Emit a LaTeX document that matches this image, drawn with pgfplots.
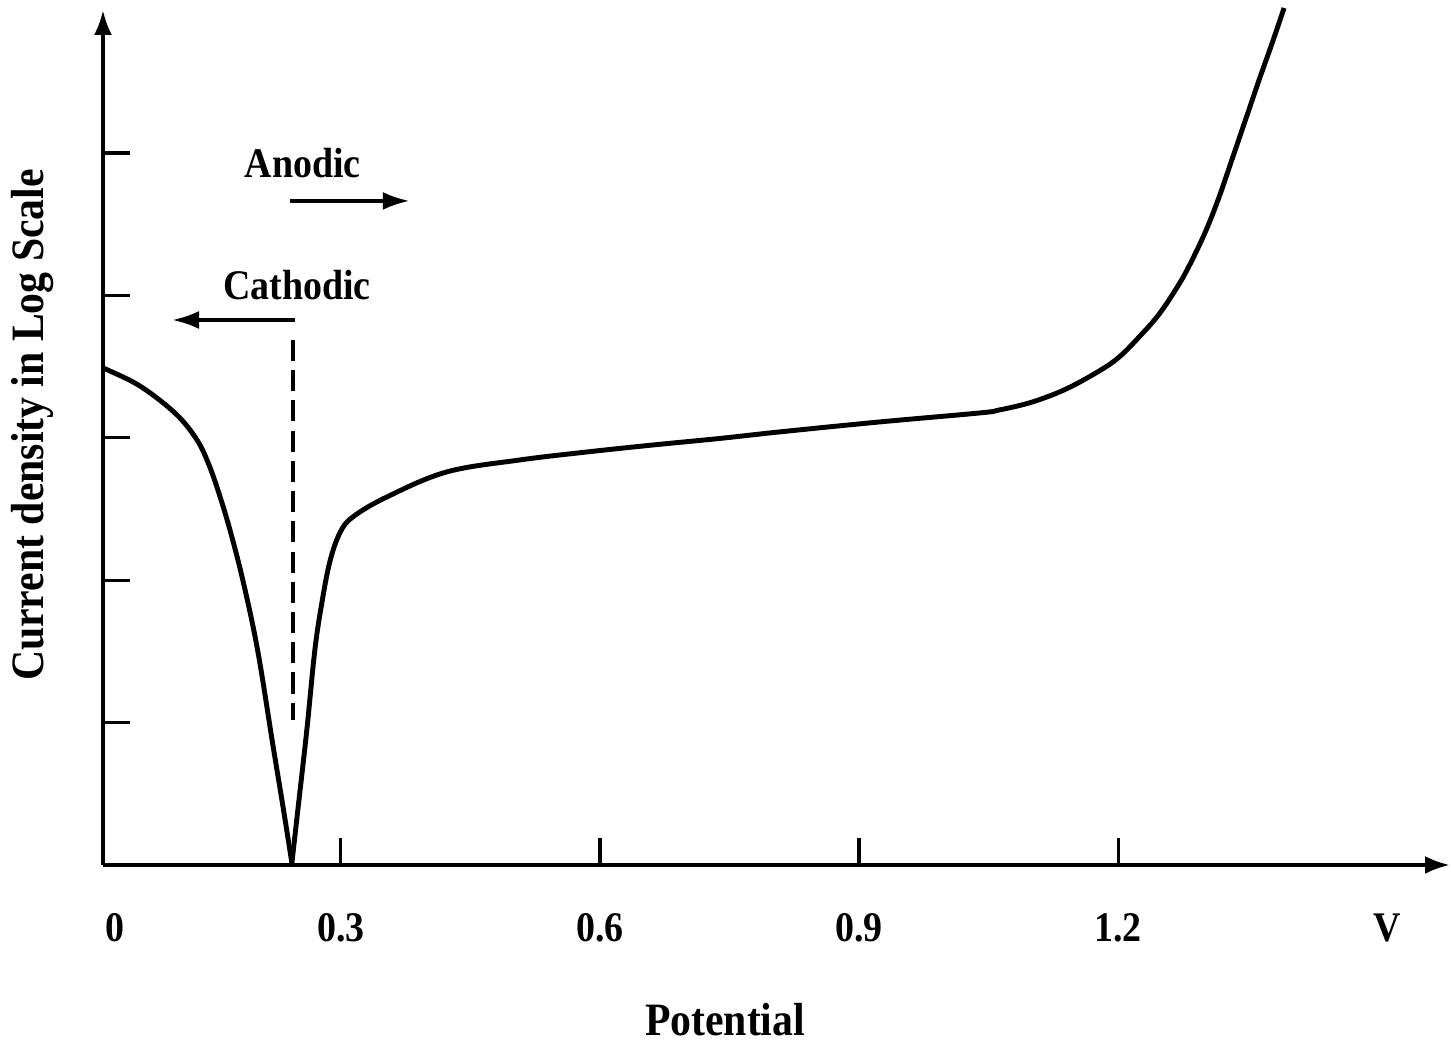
\documentclass[border=0pt]{standalone}
\usepackage{pgfplots}
\pgfplotsset{compat=1.18}
\usepackage{fontspec}
\setmainfont{Liberation Serif}[FakeStretch=0.9]
\usetikzlibrary{arrows.meta}
\begin{document}
\begin{tikzpicture}
\begin{axis}[
  width=13.47cm, height=8.55cm, scale only axis,
  xmin=0.0246, xmax=1.5842, ymin=0, ymax=6.004,
  axis lines=left,
  axis line style={line width=1.1pt, -{Latex[length=0.25cm,width=0.18cm]}},
  clip=false,
  tick align=inside,
  major tick length=0.27cm,
  tick style={line width=0.9pt, black},
  xtick={0.3,0.6,0.9,1.2},
  xticklabels={0.3,0.6,0.9,1.2},
  extra x ticks={0.039,1.5112},
  extra x tick labels={0,V},
  extra x tick style={major tick length=0pt},
  ytick={1,2,3,4,5},
  yticklabel=\empty,
  /pgf/number format/assume math mode=true,
  xticklabel style={font=\fontsize{12}{14}\selectfont\bfseries, anchor=center, yshift=-0.63cm},
  xlabel={Potential},
  ylabel={Current density in Log Scale},
  label style={font=\fontsize{13.2}{15}\selectfont\bfseries},
  xlabel style={at={(axis description cs:0.4618,-0.1813)}, anchor=center},
  ylabel style={at={(axis description cs:-0.0445,0.5146)}, anchor=base},
]
% cathodic branch
\addplot[black, line width=1.4pt, smooth, tension=0.6] coordinates {
(0.0246,3.490) (0.0593,3.392) (0.0871,3.279) (0.1137,3.139) (0.1334,2.985)
(0.1450,2.844) (0.1565,2.654) (0.1716,2.353) (0.1878,1.966) (0.2040,1.496)
(0.2213,0.843) (0.2329,0.414) (0.2433,0.014)
};
% anodic branch
\addplot[black, line width=1.4pt, smooth, tension=0.6] coordinates {
(0.2433,0.014) (0.2502,0.386) (0.2606,0.948) (0.2699,1.510) (0.2780,1.840)
(0.2872,2.128) (0.2988,2.331) (0.3139,2.444) (0.3532,2.584) (0.4226,2.760)
(0.5071,2.844) (0.5846,2.900) (0.6609,2.949) (0.7384,2.995) (0.8079,3.041)
(0.9236,3.111) (1.0392,3.174) (1.0623,3.195) (1.1005,3.251) (1.1399,3.343)
(1.1780,3.469) (1.2012,3.567) (1.2243,3.708) (1.2475,3.869) (1.2706,4.080)
(1.2857,4.249) (1.3019,4.459) (1.3169,4.691) (1.3320,4.958) (1.3482,5.246)
(1.3632,5.513) (1.3783,5.772) (1.3921,6.018)
};
% corrosion potential marker
\addplot[black, line width=1.1pt, dash pattern=on 6pt off 2.6pt] coordinates {(0.2445,3.687) (0.2445,1.018)};
\draw[line width=1.1pt, -{Latex[length=0.27cm,width=0.18cm]}] (axis cs:0.2411,4.663) -- (axis cs:0.3798,4.663);
\draw[line width=1.1pt, -{Latex[length=0.27cm,width=0.18cm]}] (axis cs:0.2468,3.827) -- (axis cs:0.1045,3.827);
\node[font=\fontsize{12}{14}\selectfont\bfseries, anchor=center] at (axis cs:0.2560,4.930) {Anodic};
\node[font=\fontsize{12}{14}\selectfont\bfseries, anchor=center] at (axis cs:0.2491,4.073) {Cathodic};
\end{axis}
\pgfresetboundingbox
\path ([shift={(-1.03cm,-1.81cm)}]current axis.south west) rectangle ([shift={(13.48cm,8.65cm)}]current axis.south west);
\end{tikzpicture}
\end{document}
